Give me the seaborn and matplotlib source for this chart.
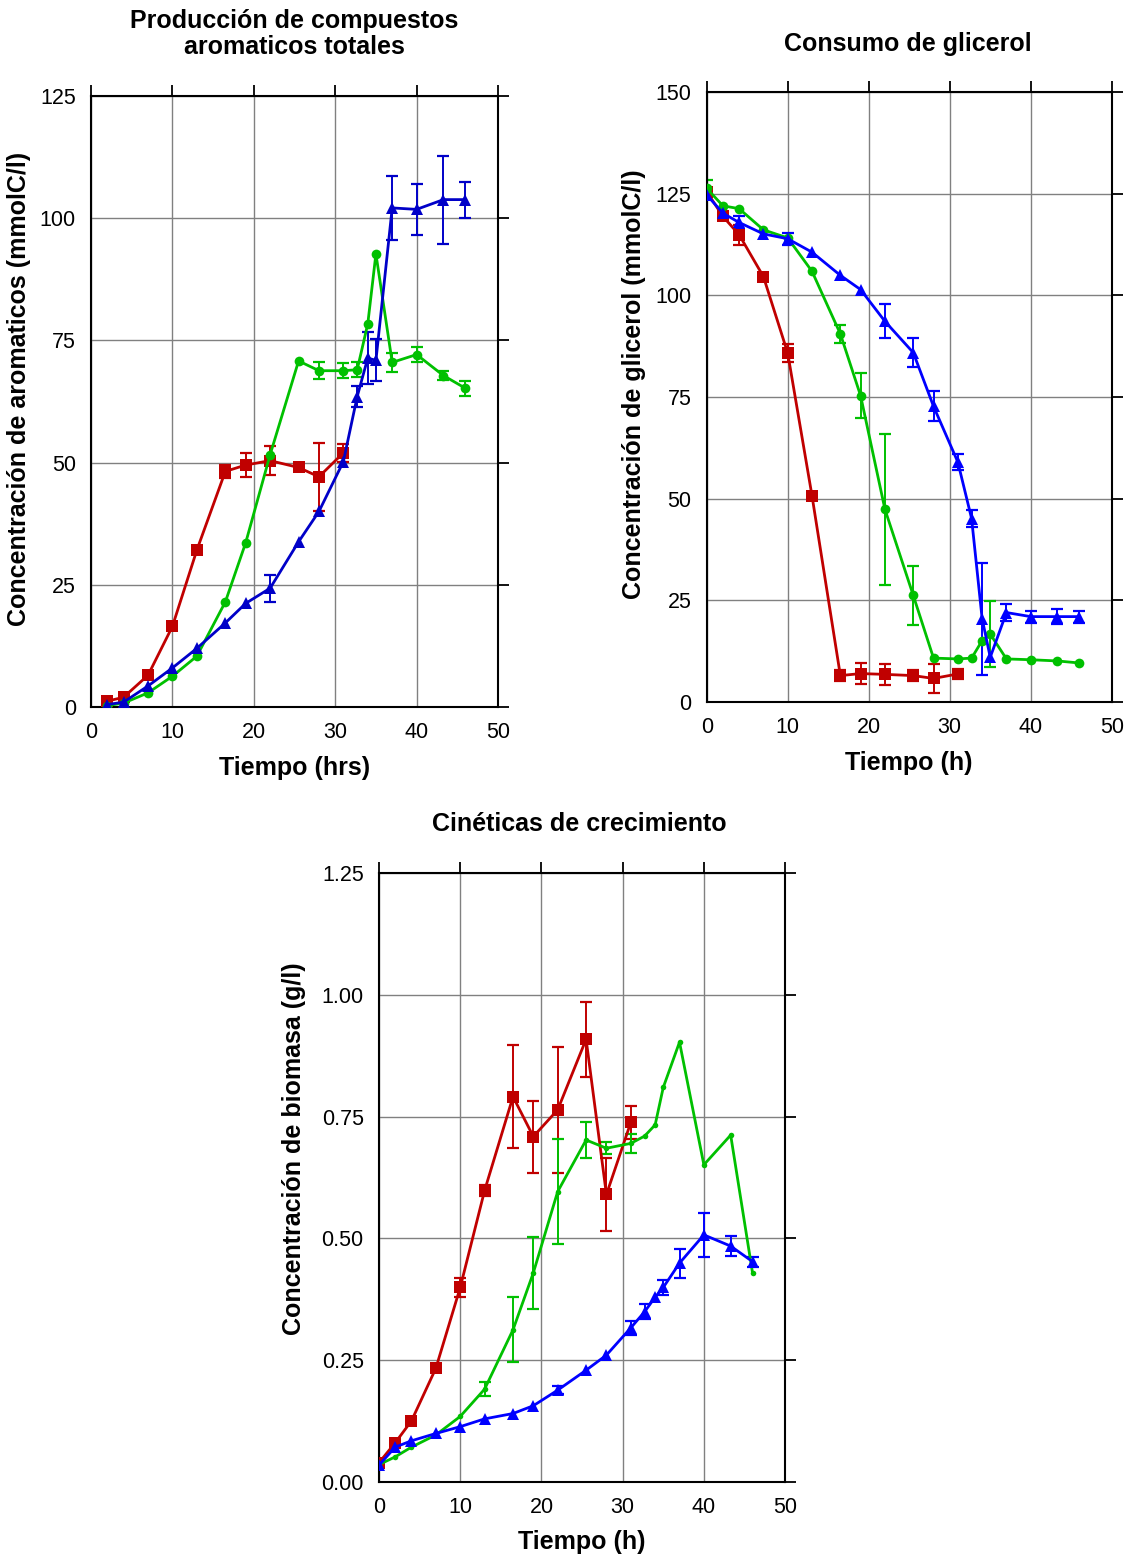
import matplotlib
matplotlib.use('Agg')
import matplotlib.pyplot as plt
import numpy as np
import pandas as pd
import seaborn as sns

# --- datos: produccion de aromaticos (mmolC/l) ---
t_red_a = [2, 4, 7, 10, 13, 16.5, 19, 22, 25.5, 28, 31]
red_a = [1.2, 2.0, 6.5, 16.5, 32.1, 48.2, 49.5, 50.4, 49.0, 47.1, 52.0]
red_a_err = [0, 0, 0, 0, 0, 1.3, 2.5, 3.0, 0, 7.0, 1.8]

t_green_a = [2, 4, 7, 10, 13, 16.5, 19, 22, 25.5, 28, 31, 32.7, 34, 35, 37, 40, 43.3, 46]
green_a = [0.3, 0.8, 2.9, 6.3, 10.4, 21.5, 33.6, 51.6, 70.8, 68.8, 68.8, 69.0, 78.4, 92.7, 70.5, 72.1, 67.8, 65.2]
green_a_err = [0, 0, 0, 0, 0, 0, 0, 0, 0, 1.8, 1.5, 1.5, 0, 0, 2.0, 1.5, 1.0, 1.5]

t_blue_a = [2, 4, 7, 10, 13, 16.5, 19, 22, 25.5, 28, 31, 32.7, 34, 35, 37, 40, 43.3, 46]
blue_a = [0.5, 1.0, 4.3, 8.0, 12.0, 17.2, 21.2, 24.3, 33.8, 40.0, 50.2, 63.5, 71.4, 70.9, 102.1, 101.8, 103.8, 103.8]
blue_a_err = [0, 0, 0, 0, 0, 0, 0, 2.8, 0, 0, 0, 2.2, 5.4, 4.3, 6.6, 5.2, 9.0, 3.7]

# --- datos: consumo de glicerol (mmolC/l) ---
t_red_g = [0, 2, 4, 7, 10, 13, 16.5, 19, 22, 25.5, 28, 31]
red_g = [125.5, 119.4, 114.9, 104.6, 85.8, 50.7, 6.5, 7.0, 6.8, 6.5, 5.8, 6.9]
red_g_err = [0, 0, 2.5, 0, 2.3, 0, 1.3, 2.6, 2.6, 1.3, 3.6, 1.2]

t_green_g = [0, 2, 4, 7, 10, 13, 16.5, 19, 22, 25.5, 28, 31, 32.7, 34, 35, 37, 40, 43.3, 46]
green_g = [126.3, 122.0, 121.3, 116.1, 114.1, 105.9, 90.5, 75.3, 47.4, 26.2, 10.8, 10.6, 10.8, 15.1, 16.7, 10.6, 10.4, 10.1, 9.6]
green_g_err = [2.0, 0, 0, 0, 0, 0, 2.2, 5.5, 18.6, 7.2, 0, 0, 0, 0, 8.1, 0, 0, 0, 0]

t_blue_g = [0, 2, 4, 7, 10, 13, 16.5, 19, 22, 25.5, 28, 31, 32.7, 34, 35, 37, 40, 43.3, 46]
blue_g = [124.7, 120.2, 117.9, 115.1, 113.9, 110.6, 104.9, 101.4, 93.6, 85.9, 72.7, 59.0, 45.1, 20.5, 11.0, 22.0, 21.0, 21.0, 21.0]
blue_g_err = [0, 0, 1.5, 0, 1.5, 0, 0, 0, 4.2, 3.6, 3.7, 2.0, 2.0, 13.8, 0, 2.0, 1.5, 1.8, 1.5]

# --- datos: biomasa (g/l) ---
t_red_b = [0, 2, 4, 7, 10, 13, 16.5, 19, 22, 25.5, 28, 31]
red_b = [0.039, 0.080, 0.125, 0.233, 0.399, 0.598, 0.791, 0.709, 0.764, 0.909, 0.590, 0.738]
red_b_err = [0, 0, 0, 0, 0.02, 0.012, 0.106, 0.074, 0.13, 0.077, 0.076, 0.034]

t_green_b = [0, 2, 4, 7, 10, 13, 16.5, 19, 22, 25.5, 28, 31, 32.7, 34, 35, 37, 40, 43.3, 46]
green_b = [0.035, 0.051, 0.071, 0.096, 0.134, 0.190, 0.312, 0.429, 0.596, 0.702, 0.685, 0.695, 0.710, 0.733, 0.810, 0.903, 0.651, 0.712, 0.428]
green_b_err = [0, 0, 0, 0, 0, 0.015, 0.067, 0.074, 0.108, 0.037, 0.012, 0.02, 0, 0, 0, 0, 0, 0, 0]

t_blue_b = [0, 2, 4, 7, 10, 13, 16.5, 19, 22, 25.5, 28, 31, 32.7, 34, 35, 37, 40, 43.3, 46]
blue_b = [0.034, 0.071, 0.084, 0.099, 0.113, 0.129, 0.140, 0.156, 0.188, 0.229, 0.260, 0.316, 0.349, 0.379, 0.399, 0.449, 0.507, 0.484, 0.452]
blue_b_err = [0, 0, 0, 0, 0, 0, 0, 0, 0.008, 0, 0, 0.015, 0.015, 0, 0.015, 0.03, 0.046, 0.02, 0.01]

RED = '#C00000'
GREEN = '#00C000'
BLUE_DARK = '#0000C8'
BLUE = '#0000FF'

sns.set_theme(style='white')
plt.rcParams['font.family'] = ['Liberation Sans', 'DejaVu Sans']
plt.rcParams['text.color'] = 'black'
plt.rcParams['axes.labelcolor'] = 'black'
plt.rcParams['xtick.color'] = 'black'
plt.rcParams['ytick.color'] = 'black'


def draw_series(ax, t, y, err, color, marker, ms):
    df = pd.DataFrame({'t': t, 'y': y, 'err': err})
    sns.lineplot(data=df, x='t', y='y', ax=ax, color=color, marker=marker,
                 markersize=ms, markeredgewidth=0, linewidth=2.0,
                 estimator=None, sort=False, zorder=3)
    e = df[df['err'] > 0]
    ax.errorbar(e['t'], e['y'], yerr=e['err'], fmt='none', ecolor=color,
                elinewidth=1.4, capsize=4, capthick=1.6, zorder=2)


def style_axes(ax, ylim, yticks, yfmt, ylabel, xlabel, ylab_xy):
    ax.set_xlim(0, 50)
    ax.set_ylim(*ylim)
    ax.set_xticks([0, 10, 20, 30, 40, 50])
    ax.set_yticks(yticks)
    ax.set_yticklabels([yfmt.format(v) for v in yticks])
    ax.grid(True, color='#808080', linewidth=1)
    ax.set_axisbelow(True)
    for s in ax.spines.values():
        s.set_color('black')
        s.set_linewidth(1.5)
    ax.tick_params(direction='out', top=True, right=True, length=8, width=1.3,
                   labelsize=15.5, colors='black', pad=3)
    ax.set_ylabel(ylabel, fontsize=18, fontweight='bold')
    ax.yaxis.set_label_coords(*ylab_xy)
    ax.set_xlabel(xlabel, fontsize=18, fontweight='bold', labelpad=9)


fig = plt.figure(figsize=(11.28, 15.58), dpi=100)

# Produccion de aromaticos
ax1 = fig.add_axes([0.0807, 0.5462, 0.3608, 0.3922])
draw_series(ax1, t_red_a, red_a, red_a_err, RED, 's', 8)
draw_series(ax1, t_green_a, green_a, green_a_err, GREEN, 'o', 7)
draw_series(ax1, t_blue_a, blue_a, blue_a_err, BLUE_DARK, '^', 9)
style_axes(ax1, (0, 125), [0, 25, 50, 75, 100, 125], '{:g}',
           'Concentración de aromaticos (mmolC/l)', 'Tiempo (hrs)',
           (-0.147, 0.52))
fig.text(0.261, 0.978, 'Producción de compuestos\naromaticos totales',
         ha='center', va='center', fontsize=18, fontweight='bold',
         linespacing=1.1, color='black')

# Consumo de glicerol
ax2 = fig.add_axes([0.6265, 0.5494, 0.3591, 0.3916])
draw_series(ax2, t_red_g, red_g, red_g_err, RED, 's', 8)
draw_series(ax2, t_green_g, green_g, green_g_err, GREEN, 'o', 7)
draw_series(ax2, t_blue_g, blue_g, blue_g_err, BLUE, '^', 9)
style_axes(ax2, (0, 150), [0, 25, 50, 75, 100, 125, 150], '{:g}',
           'Concentración de glicerol (mmolC/l)', 'Tiempo (h)',
           (-0.150, 0.521))
fig.text(0.805, 0.9718, 'Consumo de glicerol', ha='center', va='center',
         fontsize=18, fontweight='bold', color='black')

# Cineticas de crecimiento
ax3 = fig.add_axes([0.336, 0.049, 0.36, 0.3905])
draw_series(ax3, t_red_b, red_b, red_b_err, RED, 's', 8)
draw_series(ax3, t_green_b, green_b, green_b_err, GREEN, 'o', 4)
draw_series(ax3, t_blue_b, blue_b, blue_b_err, BLUE, '^', 9)
style_axes(ax3, (0, 1.25), [0, 0.25, 0.5, 0.75, 1.0, 1.25], '{:.2f}',
           'Concentración de biomasa (g/l)', 'Tiempo (h)',
           (-0.180, 0.547))
fig.text(0.514, 0.471, 'Cinéticas de crecimiento', ha='center', va='center',
         fontsize=18, fontweight='bold', color='black')

for ax in (ax1, ax2, ax3):
    leg = ax.get_legend()
    if leg is not None:
        leg.remove()

fig.savefig('out.png', dpi=100)
